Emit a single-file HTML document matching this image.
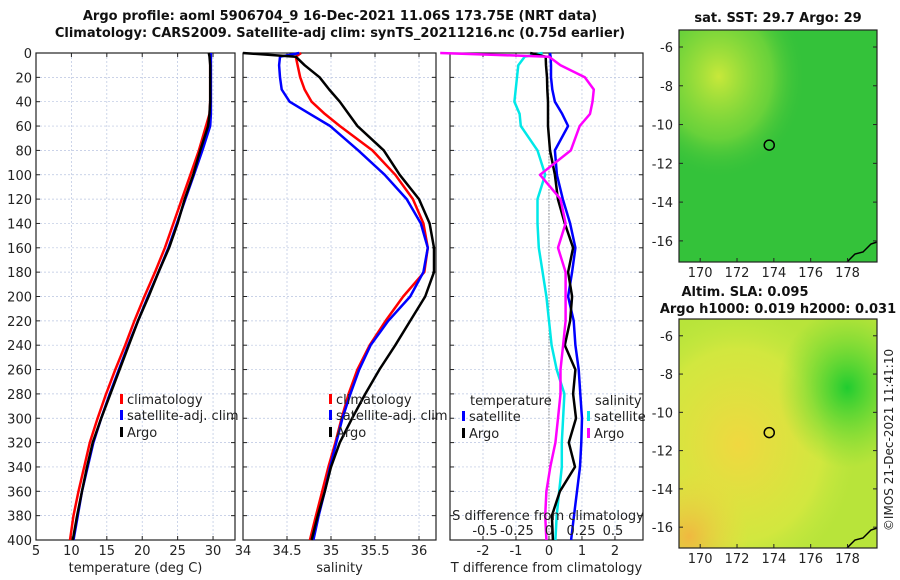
<!DOCTYPE html>
<html><head><meta charset="utf-8">
<style>
html,body{margin:0;padding:0;background:#fff;}
svg{display:block;font-family:"DejaVu Sans","Liberation Sans",sans-serif;}
</style></head>
<body>
<svg id="fig" width="900" height="580" viewBox="0 0 900 580" xmlns="http://www.w3.org/2000/svg">
<defs>
<radialGradient id="sstHot" cx="0.2" cy="0.2" r="0.45"><stop offset="0" stop-color="#c8e83a"/><stop offset="0.6" stop-color="#7fd83a" stop-opacity="0.7"/><stop offset="1" stop-color="#2fbf3a" stop-opacity="0"/></radialGradient>
<radialGradient id="slaY" cx="0.3" cy="0.55" r="0.6"><stop offset="0" stop-color="#f0d840"/><stop offset="0.7" stop-color="#d8e840" stop-opacity="0.8"/><stop offset="1" stop-color="#c0e840" stop-opacity="0"/></radialGradient>
<radialGradient id="slaG" cx="0.85" cy="0.3" r="0.35"><stop offset="0" stop-color="#20cc30"/><stop offset="1" stop-color="#60d830" stop-opacity="0"/></radialGradient>
<radialGradient id="slaO" cx="0.05" cy="0.95" r="0.3"><stop offset="0" stop-color="#f0b840"/><stop offset="1" stop-color="#f0d840" stop-opacity="0"/></radialGradient>
</defs>
</svg>
<script>
// ---- data ----
const depths = [0,3,10,20,30,40,50,60,80,100,120,140,160,180,200,220,240,260,280,300,320,340,360,380,400];
const tempClim = [29.6,29.6,29.6,29.6,29.6,29.6,29.5,29.0,28.0,26.8,25.6,24.4,23.2,21.8,20.3,18.9,17.6,16.2,14.9,13.7,12.6,11.8,11.0,10.3,9.8];
const tempSat  = [29.7,29.7,29.7,29.7,29.7,29.7,29.7,29.6,28.5,27.3,26.1,24.9,23.7,22.3,20.8,19.4,18.0,16.7,15.4,14.2,13.1,12.3,11.5,10.9,10.3];
const tempArgo = [29.4,29.5,29.6,29.6,29.6,29.6,29.5,29.3,28.2,27.2,26.0,25.0,23.8,22.3,20.9,19.4,18.1,16.8,15.5,14.2,13.0,12.2,11.5,10.8,10.2];
const salClim = [34.66,34.60,34.62,34.65,34.70,34.78,34.93,35.10,35.47,35.73,35.93,36.05,36.10,36.06,35.82,35.62,35.44,35.30,35.20,35.12,35.05,34.97,34.90,34.83,34.76];
const salSat  = [34.64,34.42,34.41,34.42,34.44,34.53,34.76,34.99,35.31,35.61,35.86,36.02,36.10,36.05,35.90,35.65,35.45,35.32,35.22,35.13,35.06,34.99,34.93,34.86,34.80];
const salArgo = [34.00,34.60,34.70,34.87,34.98,35.10,35.20,35.30,35.60,35.78,36.00,36.12,36.17,36.17,36.07,35.90,35.73,35.55,35.39,35.24,35.10,35.00,34.93,34.85,34.78];
const tDiffSat  = [0.03,0.05,0.06,0.06,0.1,0.18,0.4,0.58,0.18,0.24,0.42,0.64,0.8,0.7,0.58,0.75,0.8,0.9,0.95,1.0,0.98,0.94,0.85,0.76,0.67];
const tDiffArgo = [-0.57,-0.1,-0.09,-0.06,-0.05,-0.03,-0.03,-0.03,0.03,0.18,0.27,0.48,0.73,0.58,0.7,0.64,0.48,0.8,0.73,0.82,0.6,0.79,0.33,0.09,0.12];
const sDiffSat  = [-0.05,-0.19,-0.24,-0.25,-0.26,-0.27,-0.23,-0.22,-0.09,-0.03,-0.09,-0.09,-0.08,-0.05,-0.02,0.0,0.02,0.06,0.12,0.11,0.1,0.1,0.08,0.06,0.05];
const sDiffArgo = [-0.85,0.0,0.09,0.28,0.35,0.34,0.32,0.24,0.17,-0.07,0.09,0.13,0.07,0.13,0.13,0.13,0.11,0.09,0.09,0.07,0.05,0.01,-0.02,-0.03,-0.02];
const depthTicks = [0,20,40,60,80,100,120,140,160,180,200,220,240,260,280,300,320,340,360,380,400];
const tempTicks = [5,10,15,20,25,30];
const salTicks = [34,34.5,35,35.5,36];
const tdTicks = [-2,-1,0,1,2];
const sdTicks = [-0.5,-0.25,0,0.25,0.5];
const sdTickLabels = ["-0.5","-0.25","0","0.25","0.5"];
const latTicks = [-6,-8,-10,-12,-14,-16];
const lonTicks = [170,172,174,176,178];
const argoLon = 173.75, argoLat = -11.06;

const NS="http://www.w3.org/2000/svg";
const svg=document.getElementById('fig');
function el(tag,attrs,parent,text){const e=document.createElementNS(NS,tag);for(const k in attrs)e.setAttribute(k,attrs[k]);if(text!==undefined)e.textContent=text;(parent||svg).appendChild(e);return e;}

const Y0=53, Y1=540;
const yD = d => Y0 + (d/400)*(Y1-Y0);
function lin(d0,d1,r0,r1){return v=>r0+(v-d0)/(d1-d0)*(r1-r0);}
const panels=[
 {x0:36,x1:235,f:lin(5,33.1,36,235),ticks:tempTicks,lab:tempTicks.map(String),xl:"temperature (deg C)",name:"temperature-panel"},
 {x0:243,x1:436,f:lin(34,36.193,243,436),ticks:salTicks,lab:["34","34.5","35","35.5","36"],xl:"salinity",name:"salinity-panel"},
 {x0:450,x1:643,f:lin(-3,2.85,450,643),ticks:tdTicks,lab:tdTicks.map(String),xl:"T difference from climatology",name:"difference-panel"}
];
const sdX = lin(-0.75,0.75,453,645);

panels.forEach((p,pi)=>{
  const g=el('g',{});
  
  
  // grid
  depthTicks.forEach(d=>{const l=el('line',{x1:p.x0,x2:p.x1,y1:yD(d),y2:yD(d),stroke:'#b8c4e0','stroke-width':0.7,'stroke-dasharray':'2,2'},g);});
  p.ticks.forEach(t=>{const x=p.f(t);el('line',{x1:x,x2:x,y1:Y0,y2:Y1,stroke:'#b8c4e0','stroke-width':0.7,'stroke-dasharray':'2,2'},g);});
  // ticks
  depthTicks.forEach(d=>{el('line',{x1:p.x0,x2:p.x0+4,y1:yD(d),y2:yD(d),stroke:'#222'},g);el('line',{x1:p.x1,x2:p.x1-4,y1:yD(d),y2:yD(d),stroke:'#222'},g);
    if(pi===0){const t=el('text',{x:p.x0-4,y:yD(d)+5,'text-anchor':'end','font-size':13,fill:'#222'},g,String(d));}});
  p.ticks.forEach((t,i)=>{const x=p.f(t);el('line',{x1:x,x2:x,y1:Y1,y2:Y1-4,stroke:'#222'},g);el('line',{x1:x,x2:x,y1:Y0,y2:Y0+4,stroke:'#222'},g);
    const tx=el('text',{x:x,y:555,'text-anchor':'middle','font-size':13,fill:'#222'},g,p.lab[i]);});
  const xl=el('text',{x:(p.x0+p.x1)/2,y:572,'text-anchor':'middle','font-size':13,fill:'#222'},g,p.xl);
  
  el('rect',{x:p.x0,y:Y0,width:p.x1-p.x0,height:Y1-Y0,fill:'none',stroke:'#222','stroke-width':1.2},g);
});

function line(vals,fx,color,name){
  const pts=vals.map((v,i)=>fx(v).toFixed(1)+','+yD(depths[i]).toFixed(1)).join(' ');
  const l=el('polyline',{points:pts,fill:'none',stroke:color,'stroke-width':2.5,'stroke-linejoin':'round'});
  
  
}
// zero line in difference panel
const zl=el('line',{x1:panels[2].f(0),x2:panels[2].f(0),y1:yD(80),y2:Y1,stroke:'#555','stroke-width':1,'stroke-dasharray':'1,2'});


line(tempClim,panels[0].f,'#ff0000','temp-climatology-line');
line(tempSat,panels[0].f,'#0000ff','temp-satellite-line');
line(tempArgo,panels[0].f,'#000000','temp-argo-line');
line(salClim,panels[1].f,'#ff0000','sal-climatology-line');
line(salSat,panels[1].f,'#0000ff','sal-satellite-line');
line(salArgo,panels[1].f,'#000000','sal-argo-line');
line(sDiffSat,sdX,'#00e8e8','sdiff-satellite-line');
line(tDiffSat,panels[2].f,'#0000ff','tdiff-satellite-line');
line(tDiffArgo,panels[2].f,'#000000','tdiff-argo-line');
line(sDiffArgo,sdX,'#ff00ff','sdiff-argo-line');

// S axis labels inside panel 3
const st=el('text',{x:548,y:520,'text-anchor':'middle','font-size':13,fill:'#222'},svg,'S difference from climatology');

sdTicks.forEach((t,i)=>{const tx=el('text',{x:sdX(t),y:535,'text-anchor':'middle','font-size':13,fill:'#222'},svg,sdTickLabels[i]);
  });

// legends
function legend(x,y,color,label){
  const g=el('g',{});
  
  
  el('rect',{x:x,y:y-10,width:3,height:10,fill:color},g);
  el('text',{x:x+7,y:y,'font-size':13,fill:'#222'},g,label);
}
legend(120,404,'#ff0000','climatology');legend(120,420,'#0000ff','satellite-adj. clim');legend(120,437,'#000000','Argo');
legend(329,404,'#ff0000','climatology');legend(329,420,'#0000ff','satellite-adj. clim');legend(329,437,'#000000','Argo');
const lh1=el('text',{x:470,y:405,'font-size':13,fill:'#222'},svg,'temperature');
legend(462,421,'#0000ff','satellite');legend(462,438,'#000000','Argo');
const lh2=el('text',{x:595,y:405,'font-size':13,fill:'#222'},svg,'salinity');
legend(587,421,'#00e8e8','satellite');legend(587,438,'#ff00ff','Argo');

// titles
const t1=el('text',{x:340,y:20,'text-anchor':'middle','font-size':13,'font-weight':'bold',fill:'#111'},svg,'Argo profile: aoml 5906704_9 16-Dec-2021 11.06S 173.75E (NRT data)');

const t2=el('text',{x:340,y:37,'text-anchor':'middle','font-size':13,'font-weight':'bold',fill:'#111'},svg,'Climatology: CARS2009. Satellite-adj clim: synTS_20211216.nc (0.75d earlier)');


// maps
const MX0=679,MX1=877;
const lonX=lin(168.85,179.6,MX0,MX1);
function map(top,bot,name,bgFill,overlays,titles){
  const latY=lin(-6,-16,top+(bot-top)*0.0733,top+(bot-top)*0.909);
  const g=el('g',{});
  
  
  el('rect',{x:MX0,y:top,width:MX1-MX0,height:bot-top,fill:bgFill},g);
  overlays.forEach(o=>el('rect',{x:MX0,y:top,width:MX1-MX0,height:bot-top,fill:o},g));
  // coast
  el('path',{d:`M${MX1-30},${bot} L${MX1-22},${bot-8} L${MX1-14},${bot-10} L${MX1-6},${bot-18} L${MX1},${bot-20}`,fill:'none',stroke:'#000','stroke-width':1.5},g);
  latTicks.forEach(l=>{const y=latY(l);el('line',{x1:MX0,x2:MX0+4,y1:y,y2:y,stroke:'#222'},g);el('line',{x1:MX1,x2:MX1-4,y1:y,y2:y,stroke:'#222'},g);
    el('text',{x:MX0-6,y:y+5,'text-anchor':'end','font-size':13,fill:'#222'},g,String(l));});
  lonTicks.forEach(l=>{const x=lonX(l);el('line',{x1:x,x2:x,y1:bot,y2:bot-4,stroke:'#222'},g);
    el('text',{x:x,y:bot+15,'text-anchor':'middle','font-size':13,fill:'#222'},g,String(l));});
  const c=el('circle',{cx:lonX(argoLon),cy:latY(argoLat),r:5,fill:'none',stroke:'#000','stroke-width':1.5},g);
  
  el('rect',{x:MX0,y:top,width:MX1-MX0,height:bot-top,fill:'none',stroke:'#222','stroke-width':1.2},g);
  titles.forEach(t=>{const tx=el('text',{x:t[0],y:t[1],'text-anchor':'middle','font-size':13,'font-weight':'bold',fill:'#111'},svg,t[2]);
    });
}
map(30,262,'sst-map','#34c23a',['url(#sstHot)'],[[778,22,'sat. SST: 29.7 Argo: 29']]);
map(319,548,'sla-map','#b8e43a',['url(#slaY)','url(#slaG)','url(#slaO)'],[[745,296,'Altim. SLA: 0.095'],[778,313,'Argo h1000: 0.019 h2000: 0.031']]);

const cr=el('text',{x:0,y:0,'text-anchor':'middle','font-size':12,fill:'#222',transform:'translate(893,440) rotate(-90)'},svg,'©IMOS 21-Dec-2021 11:41:10');

</script>
</body></html>
